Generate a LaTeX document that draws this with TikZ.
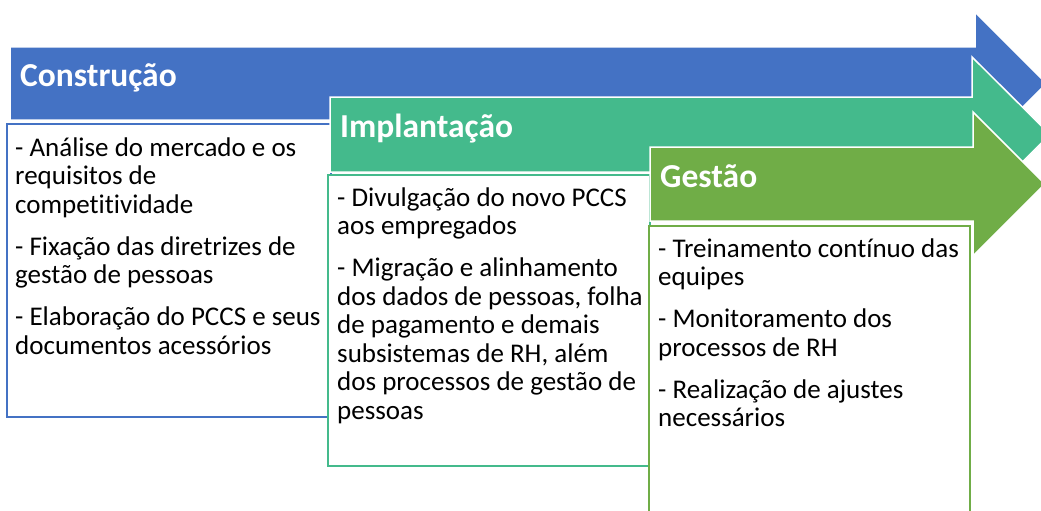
\documentclass[tikz,border=0pt]{standalone}
\usepackage{fontspec}
\setmainfont{Carlito}[Ligatures={NoCommon}]
\definecolor{cblue}{HTML}{4472C4}
\definecolor{cteal}{HTML}{44BA8C}
\definecolor{colive}{HTML}{70AD47}
\tikzset{
  arrowshape/.style={draw=white, line width=1.5pt, line join=miter},
  boxshape/.style={fill=white, line width=2pt},
  titletext/.style={anchor=base west, inner sep=0pt, text=white, font=\fontsize{33.5}{38}\selectfont\bfseries},
  bodytext/.style={anchor=base west, inner sep=0pt, font=\fontsize{27}{28.5}\selectfont}
}
\newcommand{\pgap}{\\[13.5pt]}
\begin{document}
\begin{tikzpicture}[x=1pt,y=-1pt]
\useasboundingbox (0,0) rectangle (1041,511);
% Construção
\fill[cblue, arrowshape] (10,47) -- (975,47) -- (975,12) -- (1046.5,83.5) -- (975,155) -- (975,120) -- (10,120) -- cycle;
\node[titletext] (t1) at (20,86) {Construção};
\draw[boxshape, draw=cblue] (7,124) rectangle (331,417);
\node[bodytext] (b1) at (15,156) {\parbox[t]{314pt}{\raggedright
- Análise do mercado e os\\requisitos de\\competitividade\pgap
- Fixação das diretrizes de\\gestão de pessoas\pgap
- Elaboração do PCCS e seus\\documentos acessórios}};
% Implantação
\fill[cteal, arrowshape] (330,97) -- (972,97) -- (972,57) -- (1050,134.5) -- (972,212) -- (972,172) -- (330,172) -- cycle;
\node[titletext] (t2) at (340,137) {Implantação};
\draw[boxshape, draw=cteal] (328,175) rectangle (650,466);
\node[bodytext] (b2) at (337,206) {\parbox[t]{314pt}{\raggedright
- Divulgação do novo PCCS\\aos empregados\pgap
- Migração e alinhamento\\dos dados de pessoas, folha\\de pagamento e demais\\subsistemas de RH, além\\dos processos de gestão de\\pessoas}};
% Gestão
\fill[colive, arrowshape] (650,147) -- (973,147) -- (973,112) -- (1045,184) -- (973,256) -- (973,221) -- (650,221) -- cycle;
\node[titletext] (t3) at (660,187) {Gestão};
\draw[boxshape, draw=colive] (649,226) rectangle (970,530);
\node[bodytext] (b3) at (658,257) {\parbox[t]{314pt}{\raggedright
- Treinamento contínuo das\\equipes\pgap
- Monitoramento dos\\processos de RH\pgap
- Realização de ajustes\\necessários}};
\end{tikzpicture}
\end{document}
